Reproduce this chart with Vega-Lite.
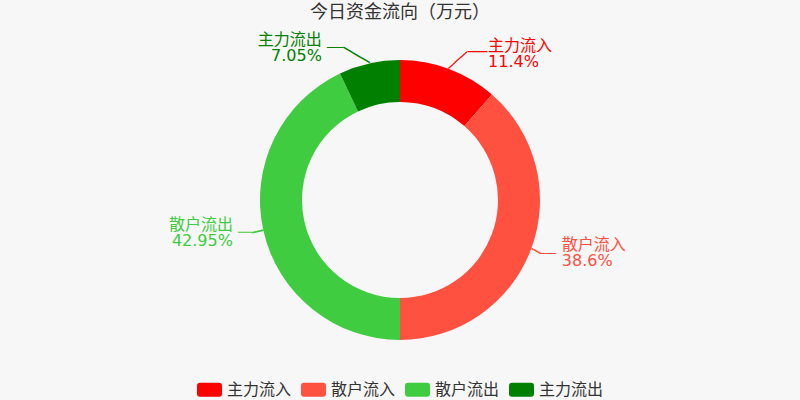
{
  "$schema": "https://vega.github.io/schema/vega-lite/v6.json",
  "width": 800,
  "height": 400,
  "autosize": {"type": "none"},
  "padding": 0,
  "background": "#f7f7f7",
  "config": {"view": {"stroke": null}, "font": "DejaVu Sans, Noto Sans CJK SC"},
  "title": {
    "text": "今日资金流向（万元）",
    "anchor": "middle",
    "offset": -22,
    "fontSize": 18,
    "fontWeight": "normal",
    "color": "#333333",
    "font": "DejaVu Sans, Noto Sans CJK SC"
  },
  "data": {
    "values": [
      {"name": "主力流入", "pct": 11.4, "k": 1},
      {"name": "散户流入", "pct": 38.6, "k": 2},
      {"name": "散户流出", "pct": 42.95, "k": 3},
      {"name": "主力流出", "pct": 7.05, "k": 4}
    ]
  },
  "encoding": {
    "theta": {"field": "pct", "type": "quantitative", "stack": true},
    "order": {"field": "k", "type": "quantitative"},
    "color": {
      "field": "name",
      "type": "nominal",
      "scale": {
        "domain": ["主力流入", "散户流入", "散户流出", "主力流出"],
        "range": ["#ff0000", "#ff5040", "#40cc40", "#007f00"]
      },
      "legend": {
        "title": null,
        "orient": "none",
        "direction": "horizontal",
        "legendX": 197,
        "legendY": 377,
        "symbolType": "M-0.76,-0.56 L0.76,-0.56 Q1,-0.56 1,-0.32 L1,0.32 Q1,0.56 0.76,0.56 L-0.76,0.56 Q-1,0.56 -1,0.32 L-1,-0.32 Q-1,-0.56 -0.76,-0.56 Z",
        "symbolSize": 625,
        "symbolStrokeWidth": 0,
        "symbolOpacity": 1,
        "labelFontSize": 16,
        "labelColor": "#333333",
        "labelFont": "DejaVu Sans, Noto Sans CJK SC",
        "labelOffset": 5,
        "columnPadding": 9
      }
    }
  },
  "layer": [
    {"mark": {"type": "arc", "innerRadius": 98, "outerRadius": 140}},
    {"mark": {"type": "text", "radius": 160, "align": "left", "baseline": "middle", "dx": 32, "dy": -4, "fontSize": 16, "lineHeight": 16,
      "text": {"expr": "datum.name === '主力流入' ? [datum.name, datum.pct + '%'] : ''"}}},
    {"mark": {"type": "text", "radius": 160, "align": "left", "baseline": "middle", "dx": 12, "dy": -11, "fontSize": 16, "lineHeight": 16,
      "text": {"expr": "datum.name === '散户流入' ? [datum.name, datum.pct + '%'] : ''"}}},
    {"mark": {"type": "text", "radius": 160, "align": "right", "baseline": "middle", "dx": -11, "dy": -10, "fontSize": 16, "lineHeight": 16,
      "text": {"expr": "datum.name === '散户流出' ? [datum.name, datum.pct + '%'] : ''"}}},
    {"mark": {"type": "text", "radius": 160, "align": "right", "baseline": "middle", "dx": -43, "dy": -4, "fontSize": 16, "lineHeight": 16,
      "text": {"expr": "datum.name === '主力流出' ? [datum.name, datum.pct + '%'] : ''"}}},
    {"mark": {"type": "text", "radius": 140, "align": "center", "baseline": "middle", "font": "DejaVu Sans Mono", "fontSize": 14.06, "angle": -41.7, "dx": 12.67, "dy": 0,
      "text": {"expr": "datum.name === '主力流入' ? '───' : ''"}}},
    {"mark": {"type": "text", "radius": 140, "align": "center", "baseline": "middle", "font": "DejaVu Sans Mono", "fontSize": 15.8, "dx": 28.43, "dy": -16.88,
      "text": {"expr": "datum.name === '主力流入' ? '──' : ''"}}},
    {"mark": {"type": "text", "radius": 140, "align": "center", "baseline": "middle", "font": "DejaVu Sans Mono", "fontSize": 16.9, "angle": 29, "dx": 5.09, "dy": 0,
      "text": {"expr": "datum.name === '散户流入' ? '─' : ''"}}},
    {"mark": {"type": "text", "radius": 140, "align": "center", "baseline": "middle", "font": "DejaVu Sans Mono", "fontSize": 13.3, "dx": 16.9, "dy": 4.93,
      "text": {"expr": "datum.name === '散户流入' ? '──' : ''"}}},
    {"mark": {"type": "text", "radius": 140, "align": "center", "baseline": "middle", "font": "DejaVu Sans Mono", "fontSize": 19, "angle": -12.5, "dx": -5.85, "dy": 0,
      "text": {"expr": "datum.name === '散户流出' ? '─' : ''"}}},
    {"mark": {"type": "text", "radius": 140, "align": "center", "baseline": "middle", "font": "DejaVu Sans Mono", "fontSize": 11.6, "dx": -18.42, "dy": 2.54,
      "text": {"expr": "datum.name === '散户流出' ? '──' : ''"}}},
    {"mark": {"type": "text", "radius": 140, "align": "center", "baseline": "middle", "font": "DejaVu Sans Mono", "fontSize": 16.8, "angle": 30.4, "dx": -15.22, "dy": 0,
      "text": {"expr": "datum.name === '主力流出' ? '───' : ''"}}},
    {"mark": {"type": "text", "radius": 140, "align": "center", "baseline": "middle", "font": "DejaVu Sans Mono", "fontSize": 13.3, "dx": -34.24, "dy": -15.42,
      "text": {"expr": "datum.name === '主力流出' ? '──' : ''"}}}
  ]
}
